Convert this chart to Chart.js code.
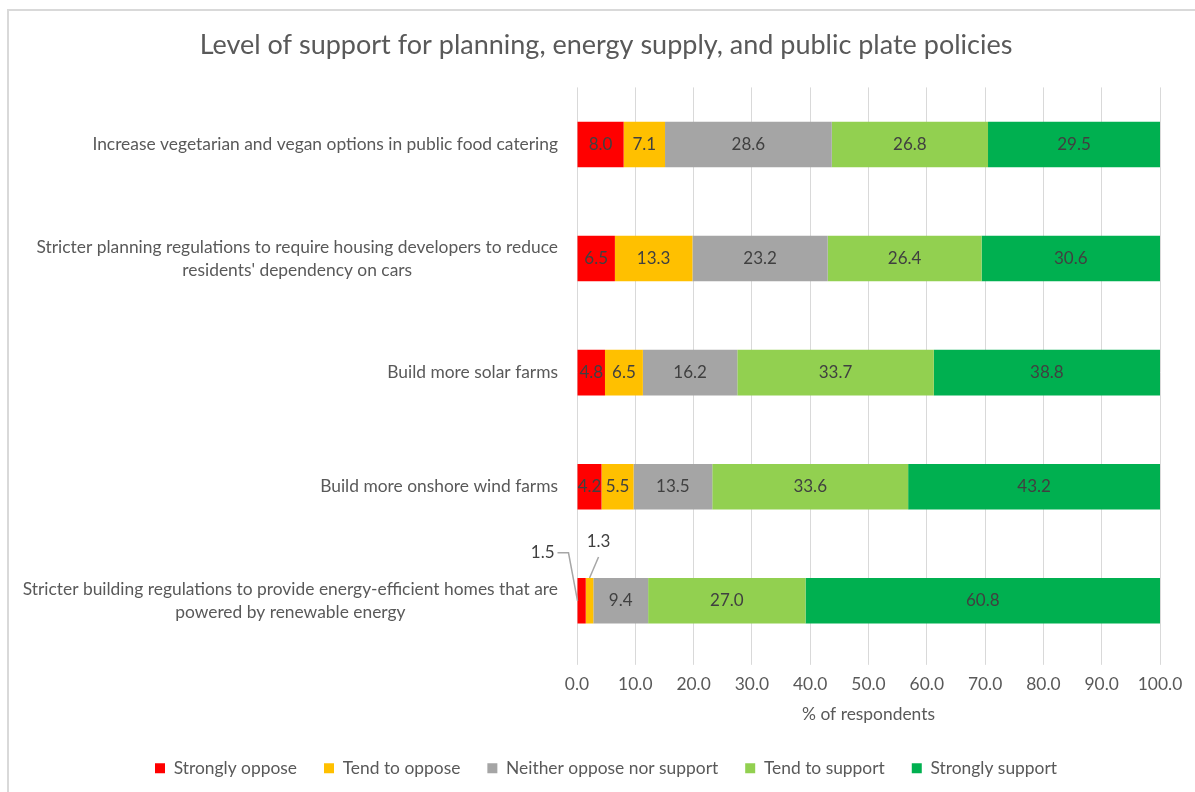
<!DOCTYPE html>
<html>
<head>
<meta charset="utf-8">
<script src="https://cdn.jsdelivr.net/npm/chart.js@4/dist/chart.umd.min.js"></script>
<style>
  html, body { margin: 0; padding: 0; background: #fff; }
  #wrap { position: relative; width: 1195px; height: 792px; }
</style>
</head>
<body>
<div id="wrap"><canvas id="chart"></canvas></div>
<script>
const categories = [
  'Increase vegetarian and vegan options in public food catering',
  ['Stricter planning regulations to require housing developers to reduce', "residents' dependency on cars"],
  'Build more solar farms',
  'Build more onshore wind farms',
  ['Stricter building regulations to provide energy-efficient homes that are', 'powered by renewable energy']
];
const seriesNames = ['Strongly oppose', 'Tend to oppose', 'Neither oppose nor support', 'Tend to support', 'Strongly support'];
const stronglyOppose  = [8.0, 6.5, 4.8, 4.2, 1.5];
const tendToOppose    = [7.1, 13.3, 6.5, 5.5, 1.3];
const neither         = [28.6, 23.2, 16.2, 13.5, 9.4];
const tendToSupport   = [26.8, 26.4, 33.7, 33.6, 27.0];
const stronglySupport = [29.5, 30.6, 38.8, 43.2, 60.8];
const xTicks = [0, 10, 20, 30, 40, 50, 60, 70, 80, 90, 100];

const colors = ['#FF0000', '#FFC000', '#A5A5A5', '#92D050', '#00B050'];
const FONT = 'Lato, "Open Sans", sans-serif';
const TEXT = '#595959';
const LABEL = '#404040';

// frame around the whole chart
const framePlugin = {
  id: 'frame',
  beforeDraw(chart) {
    const ctx = chart.ctx;
    ctx.save();
    ctx.strokeStyle = '#d9d9d9';
    ctx.lineWidth = 2;
    ctx.strokeRect(8, 10, 1200, 800);
    ctx.restore();
  }
};

// category names: right-aligned block, lines centred inside the block
const categoryLabels = {
  id: 'categoryLabels',
  afterDraw(chart) {
    const ctx = chart.ctx;
    const y = chart.scales.y;
    const right = chart.chartArea.left - 19;
    const lh = 23;
    ctx.save();
    ctx.font = '17.4px ' + FONT;
    ctx.fillStyle = TEXT;
    ctx.textAlign = 'center';
    ctx.textBaseline = 'middle';
    categories.forEach((c, i) => {
      const lines = Array.isArray(c) ? c : [c];
      const w = Math.max(...lines.map(l => ctx.measureText(l).width));
      const cx = right - w / 2;
      const cy = y.getPixelForValue(i);
      lines.forEach((l, k) => {
        ctx.fillText(l, cx, cy + (k - (lines.length - 1) / 2) * lh);
      });
    });
    ctx.restore();
  }
};

// value labels in the segments; thin segments get a leader line
const valueLabels = {
  id: 'valueLabels',
  afterDatasetsDraw(chart) {
    const ctx = chart.ctx;
    ctx.save();
    ctx.font = '17px ' + FONT;
    ctx.fillStyle = LABEL;
    ctx.textBaseline = 'middle';
    chart.data.datasets.forEach((ds, di) => {
      chart.getDatasetMeta(di).data.forEach((bar, i) => {
        const v = ds.data[i];
        const txt = v.toFixed(1);
        const left = Math.min(bar.x, bar.base);
        const right = Math.max(bar.x, bar.base);
        if (v >= 3) {
          ctx.textAlign = 'center';
          ctx.fillText(txt, (left + right) / 2, bar.y);
          return;
        }
        const top = bar.y - bar.height / 2;
        ctx.strokeStyle = '#a6a6a6';
        ctx.lineWidth = 1.5;
        ctx.beginPath();
        if (di === 0) {
          const ly = bar.y - 48;
          ctx.moveTo(left - 20, ly);
          ctx.lineTo(left - 9, ly);
          ctx.lineTo(left, bar.y);
          ctx.stroke();
          ctx.textAlign = 'right';
          ctx.fillText(txt, left - 23, ly);
        } else {
          const cx = (left + right) / 2;
          ctx.moveTo(cx, top);
          ctx.lineTo(cx + 9, top - 21);
          ctx.stroke();
          ctx.textAlign = 'center';
          ctx.fillText(txt, cx + 9, top - 36);
        }
      });
    });
    ctx.restore();
  }
};

const seriesValues = [stronglyOppose, tendToOppose, neither, tendToSupport, stronglySupport];

new Chart(document.getElementById('chart'), {
  type: 'bar',
  data: {
    labels: categories,
    datasets: seriesNames.map((name, i) => ({
      label: name,
      data: seriesValues[i],
      backgroundColor: colors[i],
      borderWidth: 0,
      barPercentage: 0.4,
      categoryPercentage: 1
    }))
  },
  options: {
    indexAxis: 'y',
    responsive: true,
    maintainAspectRatio: false,
    animation: false,
    layout: { padding: { left: 52, right: 35, top: 0, bottom: 5 } },
    plugins: {
      title: {
        display: true,
        text: 'Level of support for planning, energy supply, and public plate policies',
        color: TEXT,
        font: { family: FONT, size: 27, weight: 'normal' },
        padding: { top: 29, bottom: 26 }
      },
      legend: {
        position: 'bottom',
        labels: {
          color: TEXT,
          font: { family: FONT, size: 17.4 },
          boxWidth: 10,
          boxHeight: 10,
          padding: 27
        }
      },
      tooltip: { enabled: false }
    },
    scales: {
      x: {
        stacked: true,
        min: 0,
        max: 100,
        afterBuildTicks(s) { s.ticks = xTicks.map(v => ({ value: v })); },
        grid: { color: '#d9d9d9', lineWidth: 1, tickLength: 7, tickColor: '#d9d9d9' },
        border: { display: false },
        ticks: {
          color: TEXT,
          font: { family: FONT, size: 17.4 },
          padding: 9,
          callback: v => v.toFixed(1)
        },
        title: {
          display: true,
          text: '% of respondents',
          color: TEXT,
          font: { family: FONT, size: 17.4 },
          padding: { top: 0, bottom: 8 }
        }
      },
      y: {
        stacked: true,
        grid: { display: false },
        border: { display: false },
        ticks: { display: false },
        afterFit(s) { s.width = 525; }
      }
    }
  },
  plugins: [framePlugin, categoryLabels, valueLabels]
});
</script>
</body>
</html>
